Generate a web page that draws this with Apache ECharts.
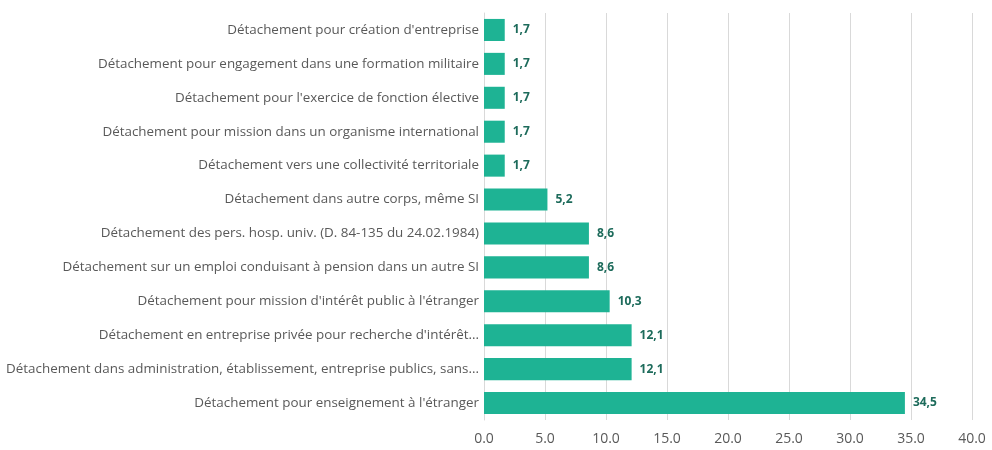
<!DOCTYPE html>
<html>
<head>
<meta charset="utf-8">
<script src="https://cdn.jsdelivr.net/npm/echarts@6/dist/echarts.min.js"></script>
<style>
  html, body { margin: 0; padding: 0; background: #fff; }
  #main { width: 992px; height: 450px; }
</style>
</head>
<body>
<div id="main"></div>
<script>
// categories listed top to bottom
var categories = [
    "Détachement pour création d'entreprise",
    "Détachement pour engagement dans une formation militaire",
    "Détachement pour l'exercice de fonction élective",
    "Détachement pour mission dans un organisme international",
    "Détachement vers une collectivité territoriale",
    "Détachement dans autre corps, même SI",
    "Détachement des pers. hosp. univ. (D. 84-135 du 24.02.1984)",
    "Détachement sur un emploi conduisant à pension dans un autre SI",
    "Détachement pour mission d'intérêt public à l'étranger",
    "Détachement en entreprise privée pour recherche d'intérêt...",
    "Détachement dans administration, établissement, entreprise publics, sans...",
    "Détachement pour enseignement à l'étranger"
];
var values = [1.7, 1.7, 1.7, 1.7, 1.7, 5.2, 8.6, 8.6, 10.3, 12.1, 12.1, 34.5];

var myChart = echarts.init(document.getElementById('main'));
var option = {
    animation: false,
    textStyle: {
        fontFamily: "'Open Sans', sans-serif"
    },
    grid: {
        left: 484,
        right: 20,
        top: 13,
        bottom: 30,
        outerBoundsMode: 'none'
    },
    xAxis: {
        type: 'value',
        min: 0,
        max: 40,
        interval: 5,
        axisLine: { show: false },
        axisTick: { show: false },
        axisLabel: {
            color: '#595959',
            fontSize: 14,
            margin: 12,
            formatter: function (v) { return v.toFixed(1); }
        },
        splitLine: {
            lineStyle: { color: '#d9d9d9', width: 1 }
        }
    },
    yAxis: {
        type: 'category',
        inverse: true,
        data: categories,
        axisLine: { show: true, lineStyle: { color: '#d9d9d9' } },
        axisTick: { show: false },
        axisLabel: {
            color: '#595959',
            fontSize: 13.4,
            margin: 5
        }
    },
    series: [
        {
            type: 'bar',
            data: values,
            barWidth: '65%',
            itemStyle: { color: '#1eb394' },
            label: {
                show: true,
                position: 'right',
                distance: 8,
                color: '#1d6b5b',
                fontWeight: 'bold',
                fontSize: 12,
                formatter: function (p) { return String(p.value).replace('.', ','); }
            }
        }
    ]
};
myChart.setOption(option);
</script>
</body>
</html>
